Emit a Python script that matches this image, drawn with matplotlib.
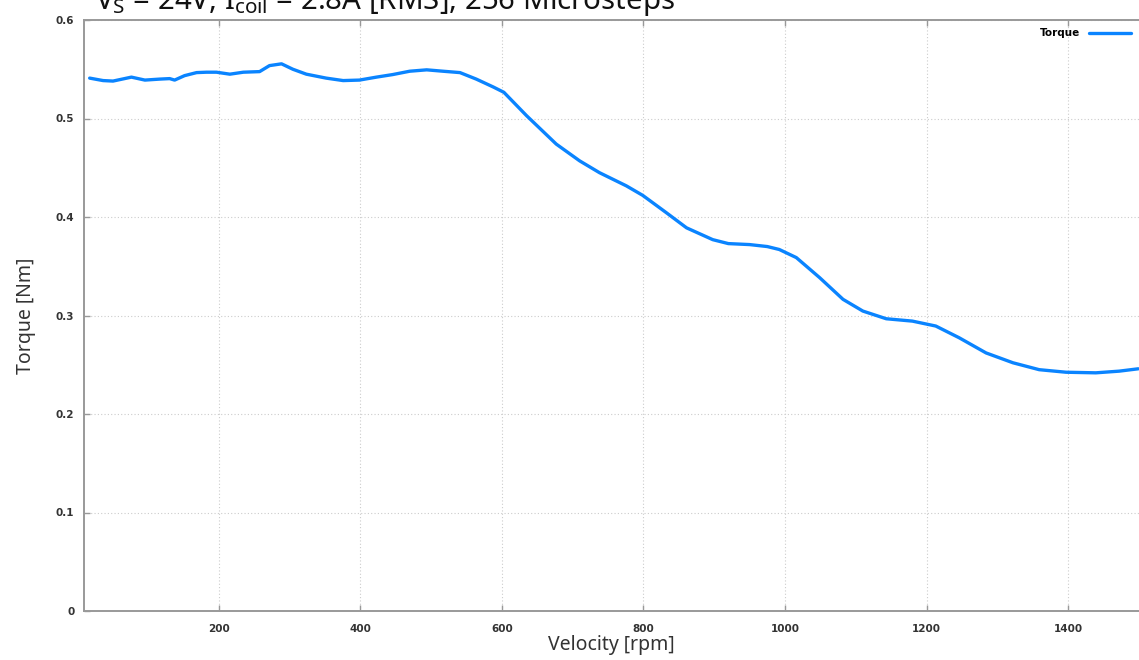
import numpy as np
import matplotlib
matplotlib.use("Agg")
import matplotlib.pyplot as plt

plt.rcParams["mathtext.fontset"] = "custom"
plt.rcParams["mathtext.rm"] = "Noto Sans"

# torque curve
velocity = [18, 37, 51, 77, 96, 117, 131, 138, 152, 169, 183, 197, 216, 235, 258,
            272, 289, 305, 324, 352, 376, 399, 423, 446, 470, 494, 517, 541, 564,
            588, 603, 635, 677, 710, 738, 776, 799, 832, 861, 898, 920, 950, 975,
            992, 1016, 1049, 1082, 1110, 1143, 1180, 1213, 1246, 1284, 1322, 1359,
            1397, 1439, 1472, 1499]
torque = [0.541, 0.5385, 0.538, 0.542, 0.539, 0.540, 0.5405, 0.539, 0.5435, 0.5466,
          0.547, 0.547, 0.545, 0.547, 0.5476, 0.5537, 0.5555, 0.550, 0.545, 0.541,
          0.5385, 0.539, 0.542, 0.5446, 0.548, 0.5494, 0.548, 0.5466, 0.540, 0.532,
          0.5266, 0.5029, 0.474, 0.457, 0.445, 0.4316, 0.422, 0.4046, 0.389, 0.377,
          0.373, 0.372, 0.370, 0.367, 0.3588, 0.3384, 0.3164, 0.3045, 0.2967,
          0.2943, 0.2893, 0.2774, 0.262, 0.252, 0.245, 0.2424, 0.2418, 0.2435, 0.2459]

x_ticks = [200, 400, 600, 800, 1000, 1200, 1400]
y_ticks = [0, 0.1, 0.2, 0.3, 0.4, 0.5, 0.6]
y_tick_labels = ["0", "0.1", "0.2", "0.3", "0.4", "0.5", "0.6"]

fig = plt.figure(figsize=(11.39, 6.6), dpi=100)
ax = fig.add_axes([84/1139, 49/660, 1 - 84/1139, 591/660])

ax.plot(velocity, torque, color="#0a84ff", lw=2.4, label="Torque",
        solid_joinstyle="round", solid_capstyle="round")

ax.set_xlim(10, 1500)
ax.set_ylim(0, 0.6)
ax.set_xticks(x_ticks)
ax.set_yticks(y_ticks)
ax.set_yticklabels(y_tick_labels)
ax.grid(True, ls=(0, (1, 2)), color="#cccccc", lw=0.8)
ax.tick_params(direction="in", top=True, length=4, width=1, color="#999999",
               labelsize=7.5, labelcolor="#333333")
ax.tick_params(axis="x", pad=9)
ax.tick_params(axis="y", pad=7)
for lab in ax.get_xticklabels() + ax.get_yticklabels():
    lab.set_fontweight("bold")
for s in ["left", "bottom", "top"]:
    ax.spines[s].set_color("#999999")
    ax.spines[s].set_linewidth(1.4)
ax.spines["right"].set_visible(False)

ax.set_xlabel("Velocity [rpm]", fontsize=14, color="#333333", labelpad=1,
              family="Noto Sans")
ax.set_ylabel("Torque [Nm]", fontsize=14, color="#333333", labelpad=14,
              family="Noto Sans")

leg = ax.legend(loc="upper right", frameon=False, markerfirst=False,
                prop={"size": 7.5, "weight": "bold"}, handlelength=4.0,
                handletextpad=0.9, borderaxespad=0.4)

# title is partly cut off at the top edge, as in the reference crop
fig.text(95/1139, 1 - 9/660, r"V$_{\rm S}$ = 24V, I$_{\rm coil}$ = 2.8A [RMS], 256 Microsteps",
         fontsize=21.2, va="baseline", ha="left", color="#111111", family="Noto Sans")

fig.savefig("out.png", dpi=100)
